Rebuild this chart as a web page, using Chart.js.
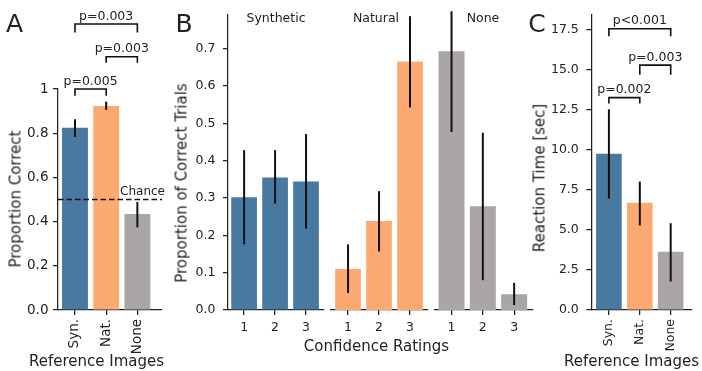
<!DOCTYPE html>
<html>
<head>
<meta charset="utf-8">
<script src="https://cdn.jsdelivr.net/npm/chart.js@4.4.1/dist/chart.umd.min.js"></script>
<style>
  html, body { margin: 0; padding: 0; background: #fff; }
  #fig { position: relative; width: 702px; height: 371px; overflow: hidden; font-family: 'DejaVu Sans', sans-serif; color: #222; }
  #fig canvas { position: absolute; top: 0; }
  .lbl { position: absolute; white-space: nowrap; line-height: 1; transform: translate(-50%, -50%); }
  .rot { transform: translate(-50%, -50%) rotate(-90deg); }
  .ax { font-size: 15px; }
  .panel { font-size: 25px; }
  .sub { font-size: 12.5px; }
</style>
</head>
<body>
<div id="fig">
  <canvas id="chartA" width="170" height="371" style="left:0px"></canvas>
  <canvas id="chartB1" width="160" height="371" style="left:170px"></canvas>
  <canvas id="chartB2" width="100" height="371" style="left:330px"></canvas>
  <canvas id="chartB3" width="104" height="371" style="left:432px"></canvas>
  <canvas id="chartC" width="168" height="371" style="left:534px"></canvas>

  <div class="lbl panel" style="left:14.5px; top:22.5px">A</div>
  <div class="lbl panel" style="left:184px; top:22.5px">B</div>
  <div class="lbl panel" style="left:537px; top:22.5px">C</div>

  <div class="lbl ax rot" style="left:15.5px; top:199px">Proportion Correct</div>
  <div class="lbl ax" style="left:96.5px; top:360.5px">Reference Images</div>

  <div class="lbl ax rot" style="left:182px; top:182.5px">Proportion of Correct Trials</div>
  <div class="lbl ax" style="left:376.5px; top:345.5px">Confidence Ratings</div>
  <div class="lbl sub" style="left:276px; top:17.5px">Synthetic</div>
  <div class="lbl sub" style="left:376px; top:17.5px">Natural</div>
  <div class="lbl sub" style="left:483px; top:17.5px">None</div>

  <div class="lbl ax rot" style="left:540px; top:177.5px">Reaction Time [sec]</div>
  <div class="lbl ax" style="left:631.5px; top:360.5px">Reference Images</div>
</div>

<script>
// A: proportion correct by reference image
const refLabels = ['Syn.', 'Nat.', 'None'];
const accMean = [0.825, 0.923, 0.434];
const accLo = [0.783, 0.906, 0.374];
const accHi = [0.863, 0.943, 0.489];
const accTicks = [0, 0.2, 0.4, 0.6, 0.8, 1];
const chanceLevel = 0.5;

// B: proportion of correct trials per confidence rating
const confLabels = ['1', '2', '3'];
const synMean = [0.302, 0.355, 0.344];
const synLo = [0.176, 0.285, 0.218];
const synHi = [0.428, 0.428, 0.471];
const natMean = [0.109, 0.236, 0.659];
const natLo = [0.045, 0.155, 0.537];
const natHi = [0.174, 0.315, 0.779];
const noneMean = [0.686, 0.275, 0.042];
const noneLo = [0.472, 0.079, 0.013];
const noneHi = [0.792, 0.470, 0.072];
const propTicks = [0, 0.1, 0.2, 0.3, 0.4, 0.5, 0.6, 0.7];

// C: reaction time
const rtMean = [9.76, 6.69, 3.64];
const rtLo = [6.96, 5.28, 1.78];
const rtHi = [12.53, 8.02, 5.42];
const rtTicks = [0, 2.5, 5, 7.5, 10, 12.5, 15, 17.5];

// significance brackets: [from, to, height, drop, text]
const accSig = [[0, 2, 1.294, 0.038, 'p=0.003'], [1, 2, 1.146, 0.027, 'p=0.003'], [0, 1, 1.0, 0.03, 'p=0.005']];
const rtSig = [[0, 2, 17.56, 0.47, 'p<0.001'], [1, 2, 15.29, 0.6, 'p=0.003'], [0, 1, 13.26, 0.37, 'p=0.002']];

const BLUE = 'rgb(72, 121, 161)';
const ORANGE = 'rgb(253, 170, 114)';
const GREY = 'rgb(171, 166, 166)';
const INK = '#222';

Chart.defaults.font.family = "'DejaVu Sans', sans-serif";
Chart.defaults.color = INK;

const extras = {
    id: 'extras',
    afterDatasetsDraw(chart, args, opts) {
        const ctx = chart.ctx;
        const xs = chart.scales.x, ys = chart.scales.y;
        const area = chart.chartArea;
        ctx.save();
        if (opts.chance !== undefined && opts.chance !== null) {
            const cy = ys.getPixelForValue(opts.chance);
            ctx.strokeStyle = '#111';
            ctx.lineWidth = 1.5;
            ctx.setLineDash([5.5, 3]);
            ctx.beginPath();
            ctx.moveTo(area.left, cy);
            ctx.lineTo(area.right, cy);
            ctx.stroke();
            ctx.setLineDash([]);
            ctx.fillStyle = INK;
            ctx.font = "12px 'DejaVu Sans'";
            ctx.textAlign = 'right';
            ctx.textBaseline = 'alphabetic';
            ctx.fillText('Chance', area.right + 3, cy - 5);
        }
        // error bars
        const meta = chart.getDatasetMeta(0);
        ctx.strokeStyle = '#111';
        ctx.lineWidth = 2;
        meta.data.forEach(function (bar, i) {
            ctx.beginPath();
            ctx.moveTo(bar.x, ys.getPixelForValue(opts.lo[i]));
            ctx.lineTo(bar.x, ys.getPixelForValue(opts.hi[i]));
            ctx.stroke();
        });
        // brackets
        ctx.lineWidth = 1.6;
        ctx.font = "12.5px 'DejaVu Sans'";
        ctx.textAlign = 'center';
        ctx.textBaseline = 'alphabetic';
        ctx.fillStyle = INK;
        (opts.brackets || []).forEach(function (b) {
            const x1 = xs.getPixelForValue(b[0]);
            const x2 = xs.getPixelForValue(b[1]);
            const y = ys.getPixelForValue(b[2]);
            const yd = ys.getPixelForValue(b[2] - b[3]);
            ctx.beginPath();
            ctx.moveTo(x1, yd);
            ctx.lineTo(x1, y);
            ctx.lineTo(x2, y);
            ctx.lineTo(x2, yd);
            ctx.stroke();
            ctx.fillText(b[4], (x1 + x2) / 2, y - 4.5);
        });
        ctx.restore();
    }
};

function makeChart(id, p) {
    return new Chart(document.getElementById(id), {
        type: 'bar',
        data: {
            datasets: [{
                data: p.mean.map(function (v, i) { return { x: i, y: v }; }),
                backgroundColor: p.colors,
                barPercentage: 0.83,
                categoryPercentage: 1
            }]
        },
        options: {
            responsive: false,
            animation: false,
            devicePixelRatio: 1,
            events: [],
            layout: { padding: p.pad },
            plugins: {
                legend: { display: false },
                tooltip: { enabled: false },
                extras: { lo: p.lo, hi: p.hi, brackets: p.brackets, chance: p.chance }
            },
            scales: {
                x: {
                    type: 'linear',
                    min: p.xmin,
                    max: p.xmax,
                    offset: false,
                    grid: { offset: false, drawOnChartArea: false, tickLength: 5, color: INK, lineWidth: 1.25 },
                    border: { color: INK, width: 1.25 },
                    afterBuildTicks: function (s) { s.ticks = p.labels.map(function (l, i) { return { value: i }; }); },
                    afterFit: function (s) { s.height = 371 - p.bottom; },
                    ticks: {
                        callback: function (v) { return p.labels[v]; },
                        minRotation: p.rot,
                        maxRotation: p.rot,
                        autoSkip: false,
                        padding: p.xpad,
                        font: { size: p.fs }
                    }
                },
                y: {
                    display: p.showY,
                    min: 0,
                    max: p.ymax,
                    grid: { drawOnChartArea: false, tickLength: 5, color: INK, lineWidth: 1.25 },
                    border: { color: INK, width: 1.25 },
                    afterBuildTicks: function (s) { s.ticks = p.yticks.map(function (v) { return { value: v }; }); },
                    afterFit: function (s) { s.width = p.yw; },
                    ticks: {
                        callback: p.yfmt,
                        padding: p.ypad,
                        font: { size: p.fs }
                    }
                }
            }
        },
        plugins: [extras]
    });
}

function oneDp(v) { return v.toFixed(1); }

makeChart('chartA', {
    mean: accMean, lo: accLo, hi: accHi, colors: [BLUE, ORANGE, GREY],
    labels: refLabels, rot: 90, xmin: -0.545, xmax: 2.79,
    ymax: 1, yticks: accTicks, showY: true, yw: 58, bottom: 310,
    fs: 13.5, xpad: 4, ypad: 4.5,
    yfmt: function (v) { return v === 1 ? '1' : v.toFixed(1); },
    pad: { left: 0, right: 8, top: 89, bottom: 0 },
    brackets: accSig, chance: chanceLevel
});

makeChart('chartB1', {
    mean: synMean, lo: synLo, hi: synHi, colors: BLUE,
    labels: confLabels, rot: 0, xmin: -0.52, xmax: 2.58,
    ymax: 0.79, yticks: propTicks, showY: true, yw: 58, bottom: 310,
    fs: 12.5, xpad: 5, ypad: 7.5, yfmt: oneDp,
    pad: { left: 0, right: 6, top: 12, bottom: 0 }
});

makeChart('chartB2', {
    mean: natMean, lo: natLo, hi: natHi, colors: ORANGE,
    labels: confLabels, rot: 0, xmin: -0.55, xmax: 2.58,
    ymax: 0.79, yticks: propTicks, showY: false, yw: 0, bottom: 310,
    fs: 12.5, xpad: 5, ypad: 7.5, yfmt: oneDp,
    pad: { left: 1, right: 2, top: 12, bottom: 0 }
});

makeChart('chartB3', {
    mean: noneMean, lo: noneLo, hi: noneHi, colors: GREY,
    labels: confLabels, rot: 0, xmin: -0.55, xmax: 2.58,
    ymax: 0.79, yticks: propTicks, showY: false, yw: 0, bottom: 310,
    fs: 12.5, xpad: 5, ypad: 7.5, yfmt: oneDp,
    pad: { left: 2.3, right: 3.7, top: 12, bottom: 0 }
});

makeChart('chartC', {
    mean: rtMean, lo: rtLo, hi: rtHi, colors: [BLUE, ORANGE, GREY],
    labels: refLabels, rot: 90, xmin: -0.57, xmax: 2.68,
    ymax: 18.42, yticks: rtTicks, showY: true, yw: 57.3, bottom: 310,
    fs: 12.5, xpad: 4, ypad: 7.5, yfmt: oneDp,
    pad: { left: 0, right: 10.3, top: 10, bottom: 0 },
    brackets: rtSig
});
</script>
</body>
</html>
